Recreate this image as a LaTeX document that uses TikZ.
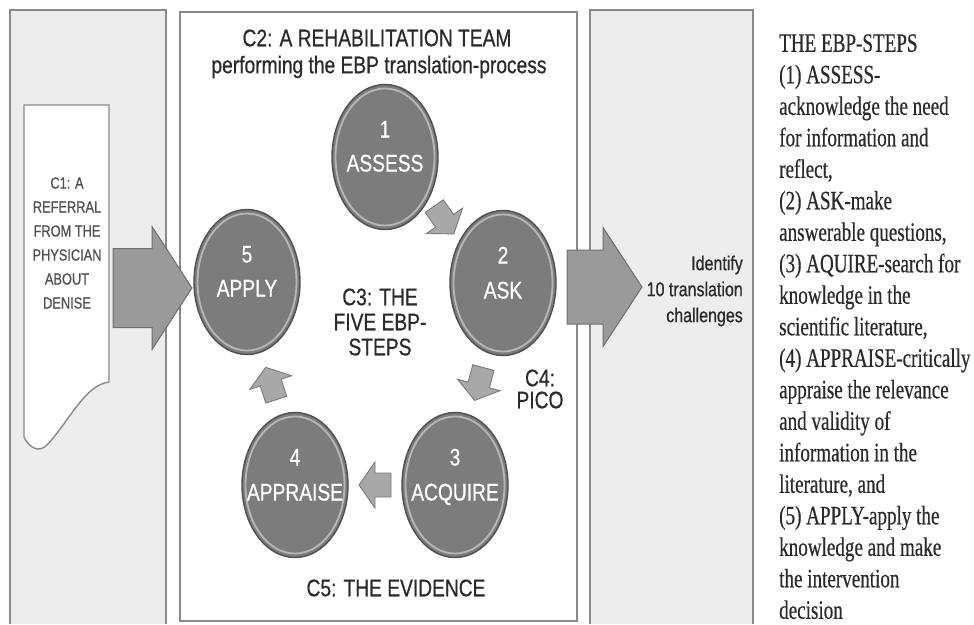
\documentclass[tikz,border=0pt]{standalone}
\usepackage{fontspec}
\newfontfamily\sansn[FakeStretch=0.8,FakeBold=0.6]{Liberation Sans}
\newfontfamily\serifn[FakeStretch=0.72,FakeBold=0.4]{Liberation Serif}
\usetikzlibrary{calc,shapes.geometric}
\definecolor{panelfill}{HTML}{EDEDED}
\definecolor{panelline}{HTML}{8A8A8A}
\definecolor{circfill}{HTML}{7C7C7C}
\definecolor{circline}{HTML}{505050}
\definecolor{arrfill}{HTML}{9A9A9A}
\definecolor{arrline}{HTML}{6E6E6E}
\definecolor{smfill}{HTML}{A8A8A8}
\definecolor{smline}{HTML}{7A7A7A}
\definecolor{txt}{HTML}{2A2A2A}
\definecolor{txtlight}{HTML}{505050}
% block arrow: center, angle, length, body half, head half, head length, style
\newcommand\blockarrow[7]{%
  \begin{scope}[shift={#1}, rotate=#2]
    \draw[#7] (-#3/2,-#4) -- (#3/2-#6,-#4) -- (#3/2-#6,-#5) -- (#3/2,0)
      -- (#3/2-#6,#5) -- (#3/2-#6,#4) -- (-#3/2,#4) -- cycle;
  \end{scope}}
\tikzset{
  panelbox/.style={fill=panelfill},
  panelborder/.style={draw=panelline, line width=1.6pt},
  stepcircle/.style={ellipse, minimum width=106pt, minimum height=145pt, inner sep=0pt,
    fill=circfill, draw=circline, line width=1.4pt},
  rim/.style={draw=white, line width=1.8pt, opacity=0.45},
  circtext/.style={text=white, font=\sansn\fontsize{24}{24}\selectfont,
    inner sep=0pt, text height=17pt, text depth=0pt},
  sanslabel/.style={text=txt, font=\sansn\fontsize{24}{25}\selectfont, align=center, inner sep=0pt},
  bigarrow/.style={fill=arrfill, draw=arrline, line width=1pt, line join=miter},
  smallarrow/.style={fill=smfill, draw=smline, line width=0.9pt, line join=miter},
}
\begin{document}
\begin{tikzpicture}[x=1pt, y=-1pt]
\useasboundingbox (0,0) rectangle (974,624);
\fill[white] (0,0) rectangle (974,624);

% panels
\fill[panelbox] (10,10) rectangle (166,624);
\draw[panelborder] (10,624) -- (10,10) -- (166,10) -- (166,624);
\fill[white] (180,12) rectangle (577,621);
\draw[panelborder] (180,12) rectangle (577,621);
\fill[panelbox] (590,10) rectangle (753,624);
\draw[panelborder] (590,624) -- (590,10) -- (753,10) -- (753,624);

% document shape C1
\draw[fill=white, draw=panelline, line width=1.4pt]
  (24,105) -- (109,105) -- (109,382)
  .. controls (85,385) and (70,420) .. (47,445)
  .. controls (38,454) and (28,446) .. (24,437) -- cycle;
\node[text=txtlight, font=\sansn\fontsize{16}{24}\selectfont, align=center, inner sep=0pt]
  (c1) at (67,243) {C1: A\\REFERRAL\\FROM THE\\PHYSICIAN\\ABOUT\\DENISE};

% titles
\node[sanslabel] (c2a) at (377,38) {C2: A REHABILITATION TEAM};
\node[sanslabel] (c2b) at (379,67) {performing the EBP translation-process};

% step circles
\node[stepcircle] (assess) at (385,157) {};
\node[stepcircle] (ask) at (503,283) {};
\node[stepcircle] (acquire) at (455,485) {};
\node[stepcircle] (appraise) at (295,485) {};
\node[stepcircle] (apply) at (247,282) {};
\foreach \c in {assess,ask,acquire,appraise,apply}
  \draw[rim] (\c.center) ellipse [x radius=49.5, y radius=68.5];

\node[circtext] (n1) at ($(assess)+(0,-28)$) {1};
\node[circtext] (t1) at ($(assess)+(0,6)$) {ASSESS};
\node[circtext] (n2) at ($(ask)+(0,-28)$) {2};
\node[circtext] (t2) at ($(ask)+(0,7)$) {ASK};
\node[circtext] (n3) at ($(acquire)+(0,-28)$) {3};
\node[circtext] (t3) at ($(acquire)+(0,7)$) {ACQUIRE};
\node[circtext] (n4) at ($(appraise)+(0,-28)$) {4};
\node[circtext] (t4) at ($(appraise)+(0,7)$) {APPRAISE};
\node[circtext] (n5) at ($(apply)+(0,-28)$) {5};
\node[circtext] (t5) at ($(apply)+(0,6)$) {APPLY};

% small arrows between steps
\coordinate (m12) at ($(assess)!0.5!(ask)$);
\coordinate (m23) at ($(ask)!0.5!(acquire)$);
\coordinate (m34) at ($(acquire)!0.5!(appraise)$);
\coordinate (m45) at ($(appraise)!0.5!(apply)$);
\blockarrow{(m12)}{-55}{34}{11}{22}{16}{smallarrow}
\blockarrow{(m23)}{-105}{34}{11}{22}{16}{smallarrow}
\blockarrow{(m34)}{180}{32}{12}{23}{16}{smallarrow}
\blockarrow{(m45)}{108}{34}{11}{22}{16}{smallarrow}

% big arrows
\coordinate (lcen) at (152.5,288);
\coordinate (rcen) at (604.5,287);
\blockarrow{(lcen)}{0}{79}{39.5}{61.5}{40}{bigarrow}
\blockarrow{(rcen)}{0}{75}{37}{59.5}{39}{bigarrow}

% inner labels
\node[sanslabel, font=\sansn\fontsize{24}{25}\selectfont] (c3) at (380,322) {C3: THE\\FIVE EBP-\\STEPS};
\node[sanslabel, font=\sansn\fontsize{24}{22}\selectfont] (c4) at (540,389) {C4:\\PICO};
\node[sanslabel] (c5) at (396,588) {C5: THE EVIDENCE};

% right output
\node[text=txt, font=\sansn\fontsize{20}{26}\selectfont, align=right, inner sep=0pt, anchor=east]
  (ident) at (743,291) {Identify\\10 translation\\challenges};

% EBP steps legend
\node[text=txt, font=\serifn\fontsize{26.5}{31.5}\selectfont, align=left, inner sep=0pt, anchor=north west]
  (legend) at (779,34) {THE EBP-STEPS\\(1) ASSESS-\\acknowledge the need\\for information and\\reflect,\\(2) ASK-make\\answerable questions,\\(3) AQUIRE-search for\\knowledge in the\\scientific literature,\\(4) APPRAISE-critically\\appraise the relevance\\and validity of\\information in the\\literature, and\\(5) APPLY-apply the\\knowledge and make\\the intervention\\decision};
\end{tikzpicture}
\end{document}
